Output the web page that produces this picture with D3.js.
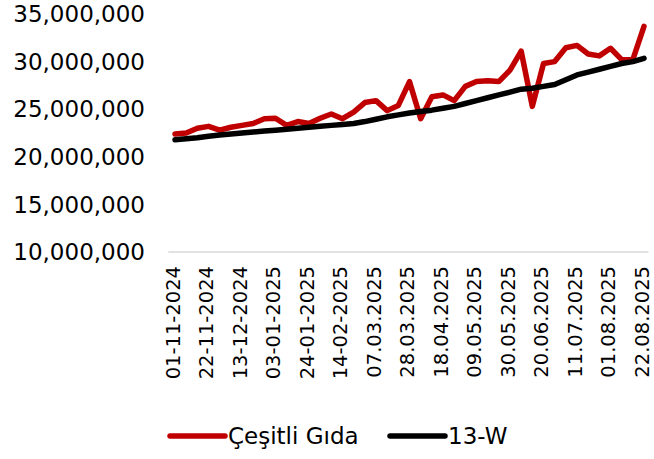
<!DOCTYPE html>
<html>
<head>
  <meta charset="utf-8">
  <script src="https://d3js.org/d3.v7.min.js"></script>
  <style>
    body { margin: 0; background: #fff; }
    text { font-family: "DejaVu Sans", sans-serif; fill: #000; }
  </style>
</head>
<body>
<div id="chartArea"></div>
<script>
  // weekly values, millions (01-11-2024 .. 22-08-2025)
  var cesitliGida = [22.4, 22.5, 23.0, 23.2, 22.8, 23.1, 23.3, 23.5, 24.0, 24.05,
                     23.3, 23.7, 23.5, 24.05, 24.5, 24.0, 24.7, 25.7, 25.9, 24.85,
                     25.4, 27.9, 24.0, 26.3, 26.5, 25.9, 27.4, 27.9, 28.0, 27.9,
                     29.1, 31.1, 25.3, 29.8, 30.0, 31.45, 31.7, 30.8, 30.6, 31.4,
                     30.2, 30.2, 33.7];
  var avg13W = [21.8, 21.9, 22.0, 22.15, 22.3, 22.4, 22.5, 22.6, 22.7, 22.8,
                22.9, 23.0, 23.1, 23.2, 23.3, 23.4, 23.5, 23.7, 23.95, 24.2,
                24.4, 24.6, 24.75, 24.9, 25.1, 25.3, 25.6, 25.9, 26.2, 26.5,
                26.8, 27.1, 27.2, 27.4, 27.6, 28.1, 28.6, 28.9, 29.2, 29.5,
                29.8, 30.0, 30.35];
  var tickLabels = ["01-11-2024", "22-11-2024", "13-12-2024", "03-01-2025", "24-01-2025",
                    "14-02-2025", "07.03.2025", "28.03.2025", "18.04.2025", "09.05.2025",
                    "30.05.2025", "20.06.2025", "11.07.2025", "01.08.2025", "22.08.2025"];
  var yTicks = [10, 15, 20, 25, 30, 35];
  var seriesNames = ["Çeşitli Gıda", "13-W"];
  var colors = ["#c00000", "#000000"];

  var w = 654, h = 459;
  var svg = d3.select("#chartArea").append("svg")
      .attr("width", w).attr("height", h);

  var xScale = d3.scaleLinear().domain([0, cesitliGida.length - 1]).range([175, 644]);
  var yScale = d3.scaleLinear().domain([10, 35]).range([252, 14]);
  var fmt = d3.format(",");

  // y labels
  svg.selectAll(".ylab").data(yTicks).enter().append("text")
    .attr("class", "ylab")
    .attr("x", 145)
    .attr("y", function(d) { return yScale(d); })
    .attr("dy", "0.36em")
    .attr("text-anchor", "end")
    .style("font-size", "23px")
    .text(function(d) { return fmt(d * 1000000); });

  // x axis line
  svg.append("line")
    .attr("x1", xScale(-0.6)).attr("x2", xScale(42.4))
    .attr("y1", yScale(10)).attr("y2", yScale(10))
    .attr("stroke", "#d9d9d9").attr("stroke-width", 1.5);

  // x labels, every 3rd week
  svg.selectAll(".xlab").data(tickLabels).enter().append("text")
    .attr("class", "xlab")
    .attr("transform", function(d, i) {
      return "translate(" + (xScale(i * 3) - 1) + "," + (yScale(10) + 14) + ") rotate(-90)";
    })
    .attr("dy", "0.3em")
    .attr("text-anchor", "end")
    .style("font-size", "19.5px")
    .text(function(d) { return d; });

  var line = d3.line()
    .x(function(d, i) { return xScale(i); })
    .y(function(d) { return yScale(d); });

  [cesitliGida, avg13W].forEach(function(s, k) {
    svg.append("path")
      .datum(s)
      .attr("d", line)
      .attr("fill", "none")
      .attr("stroke", colors[k])
      .attr("stroke-width", 5.5)
      .attr("stroke-linejoin", "round")
      .attr("stroke-linecap", "round");
  });

  // legend
  var legX = [170, 390];
  seriesNames.forEach(function(name, k) {
    svg.append("line")
      .attr("x1", legX[k]).attr("x2", legX[k] + 55)
      .attr("y1", 436).attr("y2", 436)
      .attr("stroke", colors[k]).attr("stroke-width", 5.5)
      .attr("stroke-linecap", "round");
    svg.append("text")
      .attr("x", legX[k] + 58).attr("y", 436)
      .attr("dy", "0.36em")
      .style("font-size", "23px")
      .text(name);
  });
</script>
</body>
</html>
